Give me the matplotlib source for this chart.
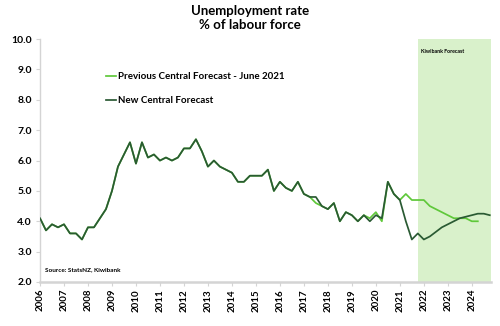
import matplotlib
matplotlib.use("Agg")
import matplotlib.pyplot as plt
import numpy as np

plt.rcParams['font.family'] = ['Lato', 'DejaVu Sans']

start_year = 2006
year_ticks = list(range(2006, 2025))

# Quarterly unemployment rate (%), 2006Q1 - 2024Q4, new central forecast from 2021Q4
new_central = [
    4.1, 3.7, 3.9, 3.8,
    3.9, 3.6, 3.6, 3.4,
    3.8, 3.8, 4.1, 4.4,
    5.0, 5.8, 6.2, 6.6,
    5.9, 6.6, 6.1, 6.2,
    6.0, 6.1, 6.0, 6.1,
    6.4, 6.4, 6.7, 6.3,
    5.8, 6.0, 5.8, 5.7,
    5.6, 5.3, 5.3, 5.5,
    5.5, 5.5, 5.7, 5.0,
    5.3, 5.1, 5.0, 5.3,
    4.9, 4.8, 4.8, 4.5,
    4.4, 4.6, 4.0, 4.3,
    4.2, 4.0, 4.2, 4.0,
    4.2, 4.1, 5.3, 4.9,
    4.7, 4.0, 3.4, 3.6,
    3.4, 3.5, 3.65, 3.8,
    3.9, 4.0, 4.1, 4.15,
    4.2, 4.25, 4.25, 4.2,
]

# Previous central forecast (June 2021), 2006Q1 - 2024Q2
previous_central = [
    4.1, 3.7, 3.9, 3.8,
    3.9, 3.6, 3.6, 3.4,
    3.8, 3.8, 4.1, 4.4,
    5.0, 5.8, 6.2, 6.6,
    5.9, 6.6, 6.1, 6.2,
    6.0, 6.1, 6.0, 6.1,
    6.4, 6.4, 6.7, 6.3,
    5.8, 6.0, 5.8, 5.7,
    5.6, 5.3, 5.3, 5.5,
    5.5, 5.5, 5.7, 5.0,
    5.3, 5.1, 5.0, 5.3,
    4.9, 4.8, 4.6, 4.5,
    4.4, 4.6, 4.0, 4.3,
    4.2, 4.0, 4.2, 4.1,
    4.3, 4.0, 5.3, 4.9,
    4.7, 4.9, 4.7, 4.7,
    4.7, 4.5, 4.4, 4.3,
    4.2, 4.1, 4.1, 4.1,
    4.0, 4.0,
]

forecast_start = 2021.75

x_new = start_year + np.arange(len(new_central)) / 4
x_prev = start_year + np.arange(len(previous_central)) / 4

dark_green = '#2a5a33'
light_green = '#5fc83a'
shade = '#d9f1cb'
axis_grey = '#d4d4d4'

fig = plt.figure(figsize=(5, 3.26), dpi=100)
ax = fig.add_axes([0.08, 0.135, 0.902, 0.745])

xmax = 2024.8
ax.axvspan(forecast_start, xmax, color=shade, lw=0, zorder=0)

ax.plot(x_prev, previous_central, color=light_green, lw=1.25,
        label='Previous Central Forecast - June 2021', zorder=2)
ax.plot(x_new, new_central, color=dark_green, lw=1.25,
        label='New Central Forecast', zorder=3)

ax.set_xlim(start_year, xmax)
ax.set_ylim(2.0, 10.0)
ax.set_yticks(np.arange(2.0, 10.01, 1.0))
ax.set_yticklabels([f'{v:.1f}' for v in np.arange(2.0, 10.01, 1.0)],
                   fontsize=7.5, fontweight='bold')
ax.set_xticks(year_ticks)
ax.set_xticklabels([str(y) for y in year_ticks], rotation=90,
                   fontsize=7, fontweight='bold')

for s in ['top', 'right']:
    ax.spines[s].set_visible(False)
ax.spines['left'].set_color(axis_grey)
ax.spines['left'].set_linewidth(1.0)
ax.spines['bottom'].set_color(axis_grey)
ax.spines['bottom'].set_linewidth(1.8)
ax.tick_params(axis='x', length=3, width=0.8, color=axis_grey, pad=2)
ax.tick_params(axis='y', length=3, width=0.8, color=axis_grey, pad=3)

fig.suptitle('Unemployment rate\n% of labour force', x=0.5, y=0.985,
             fontsize=9.5, fontweight='bold', linespacing=1.25)

leg = ax.legend(loc='upper left', bbox_to_anchor=(0.135, 0.885),
                frameon=False, handlelength=1.1, handletextpad=0.15,
                labelspacing=1.55, borderpad=0,
                prop={'weight': 'bold', 'size': 7})

ax.text(2006.2, 2.4, 'Source: StatsNZ, Kiwibank', fontsize=4.6,
        fontweight='bold', va='center', ha='left')
ax.text(2021.9, 9.6, 'Kiwibank Forecast', fontsize=3.8,
        fontweight='bold', va='center', ha='left')

fig.savefig('out.png', dpi=100)
